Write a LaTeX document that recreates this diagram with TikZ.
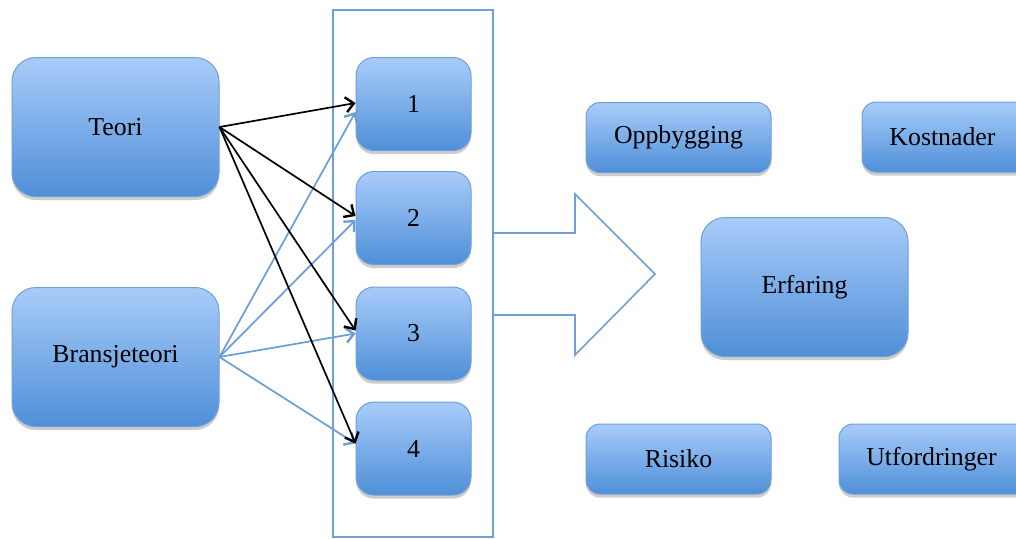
\documentclass[tikz,border=0pt]{standalone}
\usepackage{fontspec}
\setmainfont{Liberation Serif}
\usetikzlibrary{arrows.meta,shadows}
\definecolor{boxtop}{HTML}{A8CCF9}
\definecolor{boxbot}{HTML}{4F8FD8}
\definecolor{boxline}{HTML}{6F9FD6}
\definecolor{linkblue}{HTML}{6A9ED6}
\begin{document}
\begin{tikzpicture}[x=0.5pt,y=-0.5pt,
    every node/.style={font=\fontsize{12.9}{15}\selectfont},
    blok/.style={draw=boxline,line width=0.5pt,top color=boxtop,bottom color=boxbot,
      inner sep=0pt,drop shadow={shadow xshift=0pt,shadow yshift=-1.8pt,opacity=0.4}},
    stor/.style={blok,rounded corners=12pt,minimum width=103.5pt,minimum height=69.5pt},
    liten/.style={blok,rounded corners=9pt,minimum width=57.5pt,minimum height=46.5pt},
    flat/.style={blok,rounded corners=7pt,minimum width=92.5pt,minimum height=35pt},
    pil/.style={line width=0.85pt,-{Straight Barb[length=4pt,width=7.5pt,line width=1.2pt]}}]
  \useasboundingbox (0,0) rectangle (1016,538);
  % big arrow and frame
  \draw[boxline,line width=0.8pt]
    (493,233) -- (575,233) -- (575,194) -- (655,274) -- (575,355) -- (575,315) -- (493,315);
  \node[draw=boxline,line width=0.8pt,minimum width=80pt,minimum height=263.5pt,inner sep=0pt]
    (ramme) at (413,273.5) {};
  % nodes
  \node[stor] (teori) at (115.5,127) {Teori};
  \node[stor] (bransje) at (115.5,357) {Bransjeteori};
  \node[liten] (n1) at (413.5,104) {1};
  \node[liten] (n2) at (413.5,218) {2};
  \node[liten] (n3) at (413.5,333.5) {3};
  \node[liten] (n4) at (413.5,448.5) {4};
  \node[flat] (opp) at (678.5,137.5) {Oppbygging};
  \node[flat] (kost) at (954.5,137) {Kostnader\hspace*{12pt}};
  \node[stor] (erf) at (804.5,287) {Erfaring};
  \node[flat] (risiko) at (678.5,459) {Risiko};
  \node[flat,minimum width=97.5pt] (utf) at (936.5,459) {Utfordringer\hspace*{5pt}};
  % links
  \begin{scope}[pil]
    \draw[linkblue] (bransje.east) to ([yshift=-4pt]n1.west);
    \draw[linkblue] (bransje.east) to ([yshift=-1pt]n2.west);
    \draw[linkblue] (bransje.east) to ([yshift=0pt]n3.west);
    \draw[linkblue] (bransje.east) to ([yshift=2.5pt]n4.west);
    \draw (teori.east) to ([yshift=0.5pt]n1.west);
    \draw (teori.east) to ([yshift=1pt]n2.west);
    \draw (teori.east) to ([yshift=1.5pt]n3.west);
    \draw (teori.east) to ([yshift=2.5pt]n4.west);
  \end{scope}
\end{tikzpicture}
\end{document}
